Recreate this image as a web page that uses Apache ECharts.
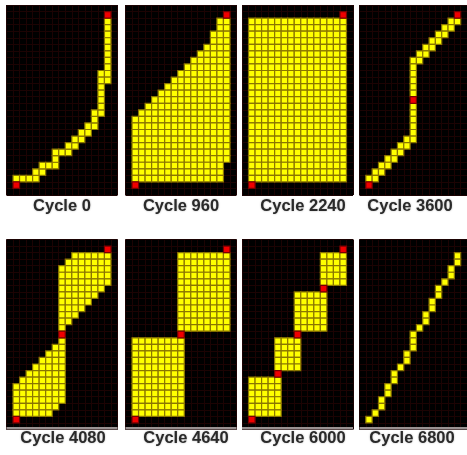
<!DOCTYPE html>
<html>
<head>
<meta charset="utf-8">
<script src="https://cdn.jsdelivr.net/npm/echarts@6/dist/echarts.min.js"></script>
<style>
html, body { margin: 0; padding: 0; background: #fff; }
#main { width: 467px; height: 455px; }
</style>
</head>
<body>
<div id="main"></div>
<script>
// grid size of every panel (columns x rows, rows counted from the top)
var colCount = 17;
var rowCount = 29;

var cycleLabels = ['Cycle 0', 'Cycle 960', 'Cycle 2240', 'Cycle 3600',
	'Cycle 4080', 'Cycle 4640', 'Cycle 6000', 'Cycle 6800'];

// yellow blocks: [rowFrom, rowTo, colFrom, colTo]
var blocks0 = [[26, 26, 1, 4], [25, 25, 4, 5], [24, 24, 5, 7], [23, 23, 7, 7], [22, 22, 7, 9],
	[21, 21, 9, 10], [20, 20, 10, 11], [19, 19, 11, 12], [18, 18, 12, 13], [17, 17, 13, 13],
	[16, 16, 13, 14], [12, 15, 14, 14], [10, 11, 14, 15], [2, 9, 15, 15]];
var blocks1 = [[2, 3, 14, 15], [4, 5, 13, 15], [6, 6, 12, 15], [7, 7, 11, 15], [8, 8, 10, 15],
	[9, 9, 9, 15], [10, 10, 8, 15], [11, 11, 7, 15], [12, 12, 6, 15], [13, 13, 5, 15],
	[14, 14, 4, 15], [15, 15, 3, 15], [16, 16, 2, 15], [17, 23, 1, 15], [24, 26, 1, 14]];
var blocks2 = [[2, 26, 1, 15]];
var blocks3 = [[2, 2, 14, 15], [3, 3, 13, 14], [4, 4, 12, 13], [5, 5, 11, 12], [6, 6, 10, 11],
	[7, 7, 9, 10], [8, 8, 8, 9], [9, 13, 8, 8], [15, 19, 8, 8], [20, 20, 7, 8], [21, 21, 6, 7],
	[22, 22, 5, 6], [23, 23, 4, 5], [24, 24, 3, 4], [25, 25, 2, 3], [26, 26, 1, 2]];
var blocks4 = [[2, 2, 10, 15], [3, 3, 9, 15], [4, 6, 8, 15], [7, 7, 8, 14], [8, 8, 8, 13],
	[9, 9, 8, 12], [10, 10, 8, 11], [11, 11, 8, 10], [12, 12, 8, 9], [13, 13, 8, 8],
	[15, 15, 8, 8], [16, 16, 7, 8], [17, 17, 6, 8], [18, 18, 5, 8], [19, 19, 4, 8],
	[20, 20, 3, 8], [21, 21, 2, 8], [22, 24, 1, 8], [25, 25, 1, 7], [26, 26, 1, 6]];
var blocks5 = [[2, 13, 8, 15], [15, 26, 1, 8]];
var blocks6 = [[2, 6, 12, 15], [8, 13, 8, 12], [15, 19, 5, 8], [21, 26, 1, 5]];
var blocks7 = [[27, 27, 1, 1], [26, 26, 2, 2], [24, 25, 3, 3], [22, 23, 4, 4], [20, 21, 5, 5],
	[19, 19, 6, 6], [17, 18, 7, 7], [14, 16, 8, 8], [13, 13, 9, 9], [11, 12, 10, 10],
	[9, 10, 11, 11], [7, 8, 12, 12], [6, 6, 13, 13], [4, 5, 14, 14], [2, 3, 15, 15]];

// red cells: [row, col]
var reds0 = [[27, 1], [1, 15]];
var reds1 = [[27, 1], [1, 15]];
var reds2 = [[27, 1], [1, 15]];
var reds3 = [[27, 1], [14, 8], [1, 15]];
var reds4 = [[27, 1], [14, 8], [1, 15]];
var reds5 = [[27, 1], [14, 8], [1, 15]];
var reds6 = [[27, 1], [20, 5], [14, 8], [7, 12], [1, 15]];
var reds7 = [];

var allBlocks = [blocks0, blocks1, blocks2, blocks3, blocks4, blocks5, blocks6, blocks7];
var allReds = [reds0, reds1, reds2, reds3, reds4, reds5, reds6, reds7];

var myChart = echarts.init(document.getElementById('main'));

var colCats = [];
for (var c = 0; c < colCount; c++) colCats.push(c);
var rowCats = [];
for (var r = 0; r < rowCount; r++) rowCats.push(r);

var lefts = [6.5, 125.5, 242, 359.5];
var tops = [5, 239.5];

function renderCell(params, api) {
	var p = api.coord([api.value(0), api.value(1)]);
	var s = api.size([1, 1]);
	var red = api.value(2) == 2;
	return {
		type: 'rect',
		shape: {x: p[0] - s[0] / 2, y: p[1] - s[1] / 2, width: s[0], height: s[1]},
		style: {
			fill: red ? '#f00000' : '#ffff00',
			stroke: red ? '#7a0000' : '#8a7600',
			lineWidth: 1.2
		}
	};
}

var grids = [], xAxes = [], yAxes = [], series = [], graphics = [];
for (var i = 0; i < 8; i++) {
	var gx = lefts[i % 4], gy = tops[Math.floor(i / 4)];
	grids.push({left: gx, top: gy, width: 111, height: 190, show: true,
		backgroundColor: '#000', borderWidth: 0});
	xAxes.push({type: 'category', gridIndex: i, data: colCats, boundaryGap: true,
		axisLine: {show: false}, axisTick: {show: false}, axisLabel: {show: false},
		splitLine: {show: true, interval: 0, lineStyle: {color: '#1c0303', width: 1}}});
	yAxes.push({type: 'category', gridIndex: i, data: rowCats, inverse: true, boundaryGap: true,
		axisLine: {show: false}, axisTick: {show: false}, axisLabel: {show: false},
		splitLine: {show: true, interval: 0, lineStyle: {color: '#1c0303', width: 1}}});

	var data = [];
	allBlocks[i].forEach(function (b) {
		for (var rr = b[0]; rr <= b[1]; rr++) {
			for (var cc = b[2]; cc <= b[3]; cc++) data.push([cc, rr, 1]);
		}
	});
	allReds[i].forEach(function (d) {
		data.push([d[1], d[0], 2]);
	});
	series.push({type: 'custom', xAxisIndex: i, yAxisIndex: i, renderItem: renderCell,
		data: data, clip: true, silent: true});

	if (i >= 4) {
		graphics.push({type: 'rect', shape: {x: gx, y: 427, width: 111, height: 2.5},
			style: {fill: '#9a9292'}, z: 100});
	}
}

var labelPos = [[62, 206], [181, 206], [303, 206], [410, 206],
	[63, 438], [186, 438], [303, 438], [412, 438]];
cycleLabels.forEach(function (t, i) {
	graphics.push({type: 'text', x: labelPos[i][0], y: labelPos[i][1], z: 100,
		style: {text: t, fill: '#2a2a2a', font: 'bold 16.5px "Liberation Sans", Arial, sans-serif',
			textAlign: 'center', textVerticalAlign: 'middle',
			textShadowColor: 'rgba(0,0,0,0.3)', textShadowBlur: 2}});
});

var option = {
	animation: false,
	backgroundColor: '#fff',
	grid: grids,
	xAxis: xAxes,
	yAxis: yAxes,
	series: series,
	graphic: graphics
};
myChart.setOption(option);
</script>
</body>
</html>
